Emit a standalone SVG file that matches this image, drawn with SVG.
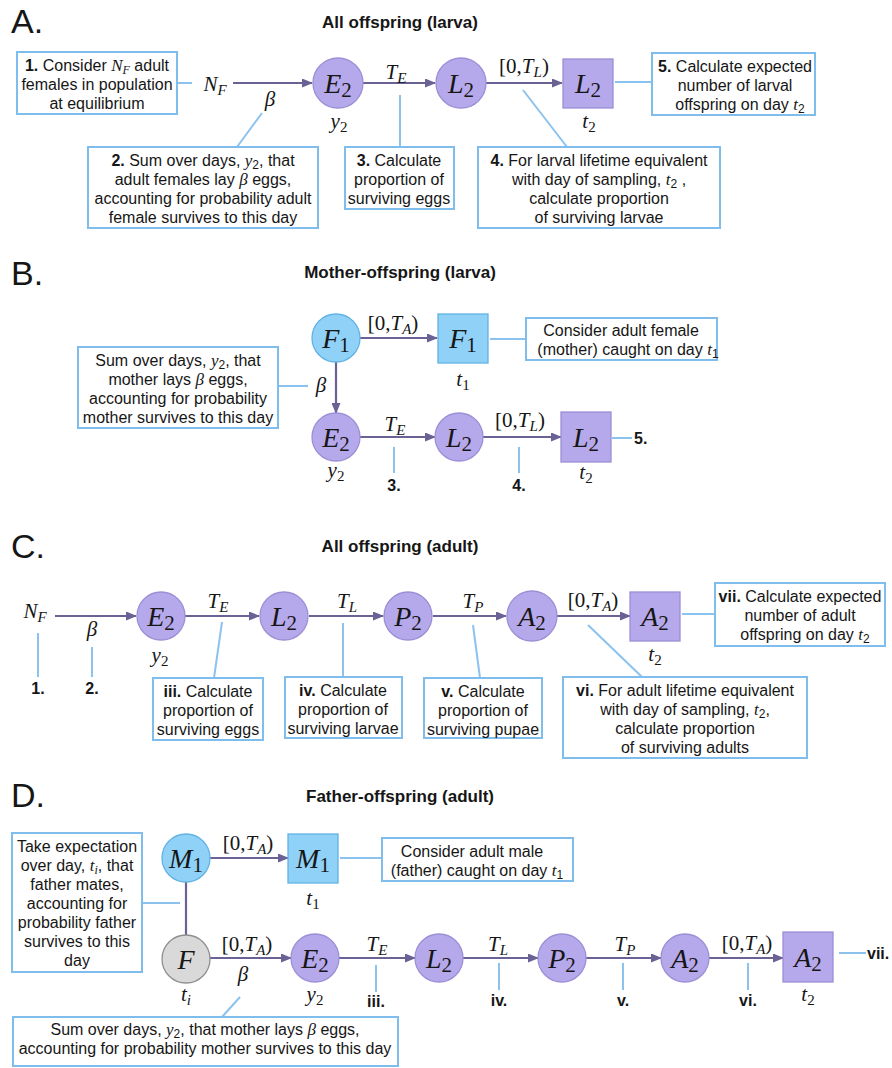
<svg xmlns="http://www.w3.org/2000/svg" width="892" height="1068" viewBox="0 0 892 1068">
<style>
.bg{fill:#fff}
.tx{font-family:"Liberation Sans",Arial,Helvetica,sans-serif;font-size:16px;fill:#161616;text-anchor:middle}
.pl{font-family:"Liberation Sans",Arial,Helvetica,sans-serif;font-size:34px;fill:#161616}
.ti{font-family:"Liberation Sans",Arial,Helvetica,sans-serif;font-size:17px;font-weight:bold;fill:#161616;text-anchor:middle}
.nb{font-family:"Liberation Sans",Arial,Helvetica,sans-serif;font-size:16px;font-weight:bold;fill:#161616;text-anchor:middle}
.b{font-weight:bold}
.mi{font-family:"Liberation Serif","Times New Roman",serif;font-style:italic;font-size:17px}
.ms{font-size:12px}
.nl{font-family:"Liberation Serif","Times New Roman",serif;font-size:28px;fill:#161616;text-anchor:middle}
.el{font-family:"Liberation Serif","Times New Roman",serif;font-size:21px;fill:#161616;text-anchor:middle}
.i{font-style:italic}
.box{fill:#fff;stroke:#7fbdec;stroke-width:2}
.lk{stroke:#8cc3ee;stroke-width:2;fill:none}
.ar{stroke:#6a6194;stroke-width:2.2;fill:none;marker-end:url(#ah)}
.ln{stroke:#6a6194;stroke-width:2.2;fill:none}
.lav{fill:#b6a9eb;stroke:#9c8fd6;stroke-width:1.3}
.blu{fill:#90d1f7;stroke:#62b2e4;stroke-width:1.3}
.gry{fill:#d9d9d9;stroke:#8f8f8f;stroke-width:1.3}
</style>
<defs>
<marker id="ah" markerWidth="11" markerHeight="9" refX="10" refY="4.5" orient="auto" markerUnits="userSpaceOnUse">
<path d="M0,0 L11,4.5 L0,9 z" fill="#6a6194"/>
</marker>
</defs>
<rect class="bg" x="0" y="0" width="892" height="1068"/>

<!-- ================= Panel A ================= -->
<g id="panelA-title">
<text class="pl" x="11" y="33">A.</text>
<text class="ti" x="400" y="28">All offspring (larva)</text>
</g>
<g id="connectorsA">
<line class="lk" x1="177" y1="83" x2="192" y2="83"/>
<line class="ar" x1="233" y1="83" x2="312" y2="83"/>
<line class="ar" x1="363" y1="83" x2="435" y2="83"/>
<line class="ar" x1="486" y1="83" x2="562" y2="83"/>
<line class="lk" x1="615" y1="82" x2="652" y2="82"/>
<line class="lk" x1="237" y1="147" x2="262" y2="113"/>
<line class="lk" x1="400" y1="95" x2="400" y2="147"/>
<line class="lk" x1="567" y1="147" x2="523" y2="90"/>
</g>
<g id="A-labels">
<text class="el" x="215" y="91"><tspan class="i">N</tspan><tspan class="i" font-size="15" dy="4">F</tspan></text>
<text class="el" x="270" y="106"><tspan class="i">β</tspan></text>
<text class="el" x="396" y="79"><tspan class="i">T</tspan><tspan class="i" font-size="15" dy="4">E</tspan></text>
<text class="el" x="524" y="73">[0,<tspan class="i">T</tspan><tspan class="i" font-size="15" dy="4">L</tspan><tspan dy="-4">)</tspan></text>
</g>
<g id="A-box1">
<rect class="box" x="17" y="52" width="160" height="62"/>
<text class="tx" x="97" y="71"><tspan class="b">1.</tspan> Consider <tspan class="mi">N</tspan><tspan class="mi ms" dy="3">F</tspan><tspan dy="-3"> adult</tspan></text>
<text class="tx" x="97" y="90">females in population</text>
<text class="tx" x="97" y="109">at equilibrium</text>
</g>
<g id="A-E2">
<circle class="lav" cx="338" cy="83" r="25"/>
<text class="nl" x="338" y="93"><tspan class="i">E</tspan><tspan font-size="21" dy="4">2</tspan></text>
<text class="el" x="339" y="128"><tspan class="i">y</tspan><tspan font-size="15" dy="4">2</tspan></text>
</g>
<g id="A-L2">
<circle class="lav" cx="461" cy="83" r="25"/>
<text class="nl" x="461" y="93"><tspan class="i">L</tspan><tspan font-size="21" dy="4">2</tspan></text>
</g>
<g id="A-L2sq">
<rect class="lav" x="563" y="59" width="50" height="49"/>
<text class="nl" x="588" y="93"><tspan class="i">L</tspan><tspan font-size="21" dy="4">2</tspan></text>
<text class="el" x="589" y="128"><tspan class="i">t</tspan><tspan font-size="15" dy="4">2</tspan></text>
</g>
<g id="A-box5">
<rect class="box" x="652" y="53" width="163" height="62"/>
<text class="tx" x="735" y="72"><tspan class="b">5.</tspan> Calculate expected</text>
<text class="tx" x="735" y="91">number of larval</text>
<text class="tx" x="740" y="110">offspring on day <tspan class="mi">t</tspan><tspan class="ms" dy="3">2</tspan></text>
</g>
<g id="A-box2">
<rect class="box" x="88" y="147" width="230" height="81"/>
<text class="tx" x="203" y="166"><tspan class="b">2.</tspan> Sum over days, <tspan class="mi">y</tspan><tspan class="ms" dy="3">2</tspan><tspan dy="-3">, that</tspan></text>
<text class="tx" x="203" y="185">adult females lay <tspan class="mi">β</tspan> eggs,</text>
<text class="tx" x="203" y="204">accounting for probability adult</text>
<text class="tx" x="203" y="223">female survives to this day</text>
</g>
<g id="A-box3">
<rect class="box" x="345" y="147" width="109" height="62"/>
<text class="tx" x="399" y="166"><tspan class="b">3.</tspan> Calculate</text>
<text class="tx" x="399" y="185">proportion of</text>
<text class="tx" x="399" y="204">surviving eggs</text>
</g>
<g id="A-box4">
<rect class="box" x="478" y="147" width="242" height="81"/>
<text class="tx" x="599" y="166"><tspan class="b">4.</tspan> For larval lifetime equivalent</text>
<text class="tx" x="599" y="185">with day of sampling, <tspan class="mi">t</tspan><tspan class="ms" dy="3">2</tspan><tspan dy="-3"> ,</tspan></text>
<text class="tx" x="599" y="204">calculate proportion</text>
<text class="tx" x="599" y="223">of surviving larvae</text>
</g>

<!-- ================= Panel B ================= -->
<g id="panelB-title">
<text class="pl" x="11" y="285">B.</text>
<text class="ti" x="400" y="278">Mother-offspring (larva)</text>
</g>
<g id="connectorsB">
<line class="ar" x1="360" y1="338" x2="437" y2="338"/>
<line class="lk" x1="490" y1="339" x2="526" y2="339"/>
<line class="ar" x1="336" y1="362" x2="336" y2="413"/>
<line class="lk" x1="278" y1="386" x2="308" y2="386"/>
<line class="ar" x1="360" y1="437" x2="435" y2="437"/>
<line class="ar" x1="483" y1="437" x2="561" y2="437"/>
<line class="lk" x1="394" y1="447" x2="394" y2="473"/>
<line class="lk" x1="519" y1="447" x2="519" y2="473"/>
<line class="lk" x1="612" y1="438" x2="632" y2="438"/>
</g>
<g id="B-labels">
<text class="el" x="393" y="330">[0,<tspan class="i">T</tspan><tspan class="i" font-size="15" dy="4">A</tspan><tspan dy="-4">)</tspan></text>
<text class="el" x="321" y="392"><tspan class="i">β</tspan></text>
<text class="el" x="395" y="431"><tspan class="i">T</tspan><tspan class="i" font-size="15" dy="4">E</tspan></text>
<text class="el" x="520" y="427">[0,<tspan class="i">T</tspan><tspan class="i" font-size="15" dy="4">L</tspan><tspan dy="-4">)</tspan></text>
<text class="nb" x="394" y="491">3.</text>
<text class="nb" x="519" y="491">4.</text>
<text class="nb" x="634" y="444" style="text-anchor:start">5.</text>
</g>
<g id="B-F1">
<circle class="blu" cx="336" cy="338" r="24"/>
<text class="nl" x="336" y="348"><tspan class="i">F</tspan><tspan font-size="21" dy="4">1</tspan></text>
</g>
<g id="B-F1sq">
<rect class="blu" x="438" y="314" width="50" height="49"/>
<text class="nl" x="463" y="348"><tspan class="i">F</tspan><tspan font-size="21" dy="4">1</tspan></text>
<text class="el" x="463" y="386"><tspan class="i">t</tspan><tspan font-size="15" dy="4">1</tspan></text>
</g>
<g id="B-boxMother">
<rect class="box" x="526" y="318" width="191" height="42"/>
<text class="tx" x="621" y="336">Consider adult female</text>
<text class="tx" x="628" y="355">(mother) caught on day <tspan class="mi">t</tspan><tspan class="ms" dy="3">1</tspan></text>
</g>
<g id="B-boxSum">
<rect class="box" x="78" y="347" width="200" height="81"/>
<text class="tx" x="178" y="366">Sum over days, <tspan class="mi">y</tspan><tspan class="ms" dy="3">2</tspan><tspan dy="-3">, that</tspan></text>
<text class="tx" x="178" y="385">mother lays <tspan class="mi">β</tspan> eggs,</text>
<text class="tx" x="178" y="404">accounting for probability</text>
<text class="tx" x="178" y="423">mother survives to this day</text>
</g>
<g id="B-E2">
<circle class="lav" cx="336" cy="437" r="24"/>
<text class="nl" x="336" y="447"><tspan class="i">E</tspan><tspan font-size="21" dy="4">2</tspan></text>
<text class="el" x="336" y="477"><tspan class="i">y</tspan><tspan font-size="15" dy="4">2</tspan></text>
</g>
<g id="B-L2">
<circle class="lav" cx="459" cy="437" r="24"/>
<text class="nl" x="459" y="447"><tspan class="i">L</tspan><tspan font-size="21" dy="4">2</tspan></text>
</g>
<g id="B-L2sq">
<rect class="lav" x="561" y="412" width="50" height="50"/>
<text class="nl" x="586" y="447"><tspan class="i">L</tspan><tspan font-size="21" dy="4">2</tspan></text>
<text class="el" x="586" y="479"><tspan class="i">t</tspan><tspan font-size="15" dy="4">2</tspan></text>
</g>

<!-- ================= Panel C ================= -->
<g id="panelC-title">
<text class="pl" x="11" y="558">C.</text>
<text class="ti" x="400" y="552">All offspring (adult)</text>
</g>
<g id="connectorsC">
<line class="ar" x1="55" y1="616" x2="136" y2="616"/>
<line class="lk" x1="38" y1="633" x2="38" y2="677"/>
<line class="lk" x1="92" y1="647" x2="92" y2="677"/>
<line class="ar" x1="185" y1="616" x2="259" y2="616"/>
<line class="ar" x1="309" y1="616" x2="383" y2="616"/>
<line class="ar" x1="433" y1="616" x2="506" y2="616"/>
<line class="ar" x1="557" y1="616" x2="630" y2="616"/>
<line class="lk" x1="222" y1="622" x2="214" y2="678"/>
<line class="lk" x1="343" y1="623" x2="343" y2="677"/>
<line class="lk" x1="473" y1="625" x2="480" y2="678"/>
<line class="lk" x1="642" y1="677" x2="588" y2="625"/>
<line class="lk" x1="682" y1="614" x2="715" y2="614"/>
</g>
<g id="C-labels">
<text class="el" x="35" y="618"><tspan class="i">N</tspan><tspan class="i" font-size="15" dy="4">F</tspan></text>
<text class="el" x="92" y="636"><tspan class="i">β</tspan></text>
<text class="nb" x="38" y="694">1.</text>
<text class="nb" x="92" y="694">2.</text>
<text class="el" x="218" y="608"><tspan class="i">T</tspan><tspan class="i" font-size="15" dy="4">E</tspan></text>
<text class="el" x="347" y="608"><tspan class="i">T</tspan><tspan class="i" font-size="15" dy="4">L</tspan></text>
<text class="el" x="473" y="608"><tspan class="i">T</tspan><tspan class="i" font-size="15" dy="4">P</tspan></text>
<text class="el" x="593" y="607">[0,<tspan class="i">T</tspan><tspan class="i" font-size="15" dy="4">A</tspan><tspan dy="-4">)</tspan></text>
</g>
<g id="C-E2">
<circle class="lav" cx="161" cy="616" r="24"/>
<text class="nl" x="161" y="626"><tspan class="i">E</tspan><tspan font-size="21" dy="4">2</tspan></text>
<text class="el" x="160" y="662"><tspan class="i">y</tspan><tspan font-size="15" dy="4">2</tspan></text>
</g>
<g id="C-L2">
<circle class="lav" cx="284" cy="616" r="24"/>
<text class="nl" x="284" y="626"><tspan class="i">L</tspan><tspan font-size="21" dy="4">2</tspan></text>
</g>
<g id="C-P2">
<circle class="lav" cx="408" cy="616" r="24"/>
<text class="nl" x="408" y="626"><tspan class="i">P</tspan><tspan font-size="21" dy="4">2</tspan></text>
</g>
<g id="C-A2">
<circle class="lav" cx="532" cy="616" r="25"/>
<text class="nl" x="532" y="626"><tspan class="i">A</tspan><tspan font-size="21" dy="4">2</tspan></text>
</g>
<g id="C-A2sq">
<rect class="lav" x="630" y="592" width="50" height="49"/>
<text class="nl" x="655" y="626"><tspan class="i">A</tspan><tspan font-size="21" dy="4">2</tspan></text>
<text class="el" x="655" y="661"><tspan class="i">t</tspan><tspan font-size="15" dy="4">2</tspan></text>
</g>
<g id="C-box3">
<rect class="box" x="153" y="678" width="110" height="62"/>
<text class="tx" x="208" y="697"><tspan class="b">iii.</tspan> Calculate</text>
<text class="tx" x="208" y="716">proportion of</text>
<text class="tx" x="208" y="735">surviving eggs</text>
</g>
<g id="C-box4">
<rect class="box" x="285" y="677" width="117" height="61"/>
<text class="tx" x="343" y="696"><tspan class="b">iv.</tspan> Calculate</text>
<text class="tx" x="343" y="715">proportion of</text>
<text class="tx" x="343" y="734">surviving larvae</text>
</g>
<g id="C-box5">
<rect class="box" x="424" y="678" width="118" height="60"/>
<text class="tx" x="483" y="697"><tspan class="b">v.</tspan> Calculate</text>
<text class="tx" x="483" y="716">proportion of</text>
<text class="tx" x="483" y="735">surviving pupae</text>
</g>
<g id="C-box6">
<rect class="box" x="563" y="677" width="244" height="81"/>
<text class="tx" x="685" y="696"><tspan class="b">vi.</tspan> For adult lifetime equivalent</text>
<text class="tx" x="685" y="715">with day of sampling, <tspan class="mi">t</tspan><tspan class="ms" dy="3">2</tspan><tspan dy="-3">,</tspan></text>
<text class="tx" x="685" y="734">calculate proportion</text>
<text class="tx" x="685" y="753">of surviving adults</text>
</g>
<g id="C-box7">
<rect class="box" x="715" y="583" width="170" height="63"/>
<text class="tx" x="800" y="602"><tspan class="b">vii.</tspan> Calculate expected</text>
<text class="tx" x="800" y="621">number of adult</text>
<text class="tx" x="805" y="640">offspring on day <tspan class="mi">t</tspan><tspan class="ms" dy="3">2</tspan></text>
</g>

<!-- ================= Panel D ================= -->
<g id="panelD-title">
<text class="pl" x="11" y="807">D.</text>
<text class="ti" x="400" y="802">Father-offspring (adult)</text>
</g>
<g id="connectorsD">
<line class="lk" x1="142" y1="903" x2="180" y2="903"/>
<line class="ar" x1="210" y1="858" x2="288" y2="858"/>
<line class="lk" x1="340" y1="858" x2="382" y2="858"/>
<line class="ln" x1="186" y1="882" x2="186" y2="935"/>
<line class="ar" x1="210" y1="958" x2="291" y2="958"/>
<line class="lk" x1="222" y1="1017" x2="240" y2="997"/>
<line class="ar" x1="339" y1="958" x2="415" y2="958"/>
<line class="ar" x1="463" y1="958" x2="538" y2="958"/>
<line class="ar" x1="586" y1="958" x2="661" y2="958"/>
<line class="ar" x1="709" y1="958" x2="783" y2="958"/>
<line class="lk" x1="376" y1="965" x2="376" y2="992"/>
<line class="lk" x1="499" y1="963" x2="499" y2="990"/>
<line class="lk" x1="623" y1="963" x2="623" y2="990"/>
<line class="lk" x1="748" y1="963" x2="748" y2="990"/>
<line class="lk" x1="839" y1="953" x2="866" y2="953"/>
</g>
<g id="D-labels">
<text class="el" x="248" y="850">[0,<tspan class="i">T</tspan><tspan class="i" font-size="15" dy="4">A</tspan><tspan dy="-4">)</tspan></text>
<text class="el" x="247" y="951">[0,<tspan class="i">T</tspan><tspan class="i" font-size="15" dy="4">A</tspan><tspan dy="-4">)</tspan></text>
<text class="el" x="243" y="981"><tspan class="i">β</tspan></text>
<text class="el" x="377" y="951"><tspan class="i">T</tspan><tspan class="i" font-size="15" dy="4">E</tspan></text>
<text class="el" x="498" y="951"><tspan class="i">T</tspan><tspan class="i" font-size="15" dy="4">L</tspan></text>
<text class="el" x="625" y="951"><tspan class="i">T</tspan><tspan class="i" font-size="15" dy="4">P</tspan></text>
<text class="el" x="747" y="950">[0,<tspan class="i">T</tspan><tspan class="i" font-size="15" dy="4">A</tspan><tspan dy="-4">)</tspan></text>
<text class="nb" x="376" y="1007">iii.</text>
<text class="nb" x="499" y="1006">iv.</text>
<text class="nb" x="623" y="1006">v.</text>
<text class="nb" x="748" y="1006">vi.</text>
<text class="nb" x="867" y="959" style="text-anchor:start">vii.</text>
</g>
<g id="D-boxTake">
<rect class="box" x="12" y="833" width="130" height="139"/>
<text class="tx" x="77" y="852">Take expectation</text>
<text class="tx" x="77" y="871">over day, <tspan class="mi">t</tspan><tspan class="mi ms" dy="3">i</tspan><tspan dy="-3">, that</tspan></text>
<text class="tx" x="77" y="890">father mates,</text>
<text class="tx" x="77" y="909">accounting for</text>
<text class="tx" x="77" y="928">probability father</text>
<text class="tx" x="77" y="947">survives to this</text>
<text class="tx" x="77" y="966">day</text>
</g>
<g id="D-M1">
<circle class="blu" cx="186" cy="858" r="24"/>
<text class="nl" x="186" y="868"><tspan class="i">M</tspan><tspan font-size="21" dy="4">1</tspan></text>
</g>
<g id="D-M1sq">
<rect class="blu" x="288" y="834" width="50" height="49"/>
<text class="nl" x="313" y="868"><tspan class="i">M</tspan><tspan font-size="21" dy="4">1</tspan></text>
<text class="el" x="313" y="905"><tspan class="i">t</tspan><tspan font-size="15" dy="4">1</tspan></text>
</g>
<g id="D-boxMale">
<rect class="box" x="382" y="838" width="191" height="43"/>
<text class="tx" x="472" y="857">Consider adult male</text>
<text class="tx" x="477" y="876">(father) caught on day <tspan class="mi">t</tspan><tspan class="ms" dy="3">1</tspan></text>
</g>
<g id="D-F">
<circle class="gry" cx="186" cy="959" r="24"/>
<text class="nl" x="186" y="969"><tspan class="i">F</tspan></text>
<text class="el" x="186" y="1001"><tspan class="i">t</tspan><tspan class="i" font-size="15" dy="4">i</tspan></text>
</g>
<g id="D-E2">
<circle class="lav" cx="315" cy="958" r="24"/>
<text class="nl" x="315" y="968"><tspan class="i">E</tspan><tspan font-size="21" dy="4">2</tspan></text>
<text class="el" x="315" y="1001"><tspan class="i">y</tspan><tspan font-size="15" dy="4">2</tspan></text>
</g>
<g id="D-L2">
<circle class="lav" cx="439" cy="958" r="24"/>
<text class="nl" x="439" y="968"><tspan class="i">L</tspan><tspan font-size="21" dy="4">2</tspan></text>
</g>
<g id="D-P2">
<circle class="lav" cx="562" cy="958" r="24"/>
<text class="nl" x="562" y="968"><tspan class="i">P</tspan><tspan font-size="21" dy="4">2</tspan></text>
</g>
<g id="D-A2">
<circle class="lav" cx="685" cy="958" r="24"/>
<text class="nl" x="685" y="968"><tspan class="i">A</tspan><tspan font-size="21" dy="4">2</tspan></text>
</g>
<g id="D-A2sq">
<rect class="lav" x="783" y="932" width="50" height="50"/>
<text class="nl" x="808" y="967"><tspan class="i">A</tspan><tspan font-size="21" dy="4">2</tspan></text>
<text class="el" x="808" y="1001"><tspan class="i">t</tspan><tspan font-size="15" dy="4">2</tspan></text>
</g>
<g id="D-boxSum">
<rect class="box" x="13" y="1017" width="385" height="49"/>
<text class="tx" x="205" y="1035">Sum over days, <tspan class="mi">y</tspan><tspan class="ms" dy="3">2</tspan><tspan dy="-3">, that mother lays </tspan><tspan class="mi">β</tspan> eggs,</text>
<text class="tx" x="205" y="1054">accounting for probability mother survives to this day</text>
</g>
</svg>
